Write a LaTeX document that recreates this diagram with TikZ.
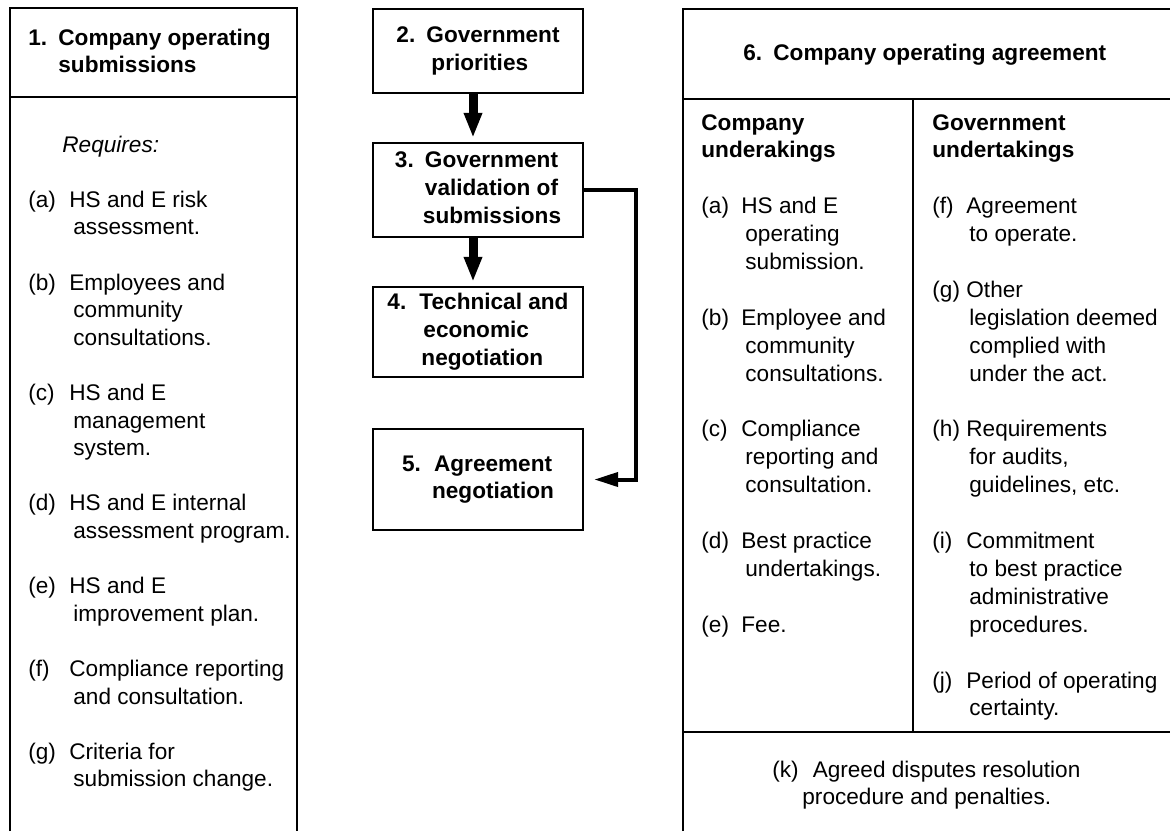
\documentclass[tikz,border=0pt]{standalone}
\usepackage{fontspec}
\setmainfont{Liberation Sans}
\usepackage{tikz}
\usetikzlibrary{arrows.meta, positioning}
\newcommand{\bodyfont}{\fontsize{11.3}{13.8}\selectfont}
\newcommand{\agrfont}{\fontsize{11.3}{13.95}\selectfont}

\begin{document}
\begin{tikzpicture}[
  x=0.5pt, y=-0.5pt,
  frame/.style={line width=1.2pt},
  box/.style={draw, line width=1.2pt, minimum width=105pt, inner sep=0pt,
              font=\bodyfont\bfseries},
  txt/.style={inner sep=0pt, anchor=base west, font=\bodyfont},
  bigarrow/.style={-{Triangle[length=12.5pt, width=8.5pt]}, line width=4.5pt, shorten >=2pt},
  elbow/.style={-{Triangle[length=12pt, width=7pt]}, line width=2pt, shorten >=5pt}
]
\useasboundingbox (0,0) rectangle (1170,831);

% 1. company submissions
\draw[frame] (10,831) -- (10,8) -- (297,8) -- (297,831);
\draw[frame] (10,97) -- (297,97);
\node[txt, font=\bodyfont\bfseries] (subhead) at (28,45) {%
  \begin{tabular}[t]{@{}p{15pt}@{}l@{}}
  1. & Company operating\\
     & submissions
  \end{tabular}};
\node[txt] (subitems) at (28,152) {%
  \begin{tabular}[t]{@{}p{20.5pt}@{}l@{}}
  \multicolumn{2}{@{}l@{}}{\hspace{17pt}\itshape Requires:}\\ &\\
  (a) & HS and E risk\\
      & \hspace{2pt}assessment.\\ &\\
  (b) & Employees and\\
      & \hspace{2pt}community\\
      & \hspace{2pt}consultations.\\ &\\
  (c) & HS and E\\
      & \hspace{2pt}management\\
      & \hspace{2pt}system.\\ &\\
  (d) & HS and E internal\\
      & \hspace{2pt}assessment program.\\ &\\
  (e) & HS and E\\
      & \hspace{2pt}improvement plan.\\ &\\
  (f) & Compliance reporting\\
      & \hspace{2pt}and consultation.\\ &\\
  (g) & Criteria for\\
      & \hspace{2pt}submission change.
  \end{tabular}};

% 2.-5. government steps
\node[box, minimum height=42pt] (gov) at (478,51) {%
  \begin{tabular}{@{}p{15pt}@{}l@{}}
  2. & Government\\
     & \hspace{2.5pt}priorities
  \end{tabular}};
\node[box, minimum height=47pt] (valid) at (478,190) {%
  \begin{tabular}{@{}p{15pt}@{}l@{}}
  3. & Government\\
     & validation of\\
     & \hspace{-1pt}submissions
  \end{tabular}};
\node[box, minimum height=45pt] (tech) at (478,332) {%
  \begin{tabular}{@{}p{16pt}@{}l@{}}
  4. & Technical and\\
     & \hspace{2pt}economic\\
     & \hspace{1pt}negotiation
  \end{tabular}};
\node[box, minimum height=50.5pt] (agree) at (478,479.5) {%
  \begin{tabular}{@{}p{16pt}@{}l@{}}
  5. & Agreement\\
     & \hspace{-1pt}negotiation
  \end{tabular}};
\coordinate (bend) at (636,190);
\draw[bigarrow] ([xshift=-2.5pt]gov.south) -- ([xshift=-2.5pt]valid.north);
\draw[bigarrow] ([xshift=-2.5pt]valid.south) -- ([xshift=-2.5pt]tech.north);
\draw[elbow] (valid.east) -- (bend) |- (agree.east);

% 6. operating agreement
\draw[frame] (683,831) -- (683,9) -- (1170,9);
\draw[frame] (683,99) -- (1170,99);
\draw[frame] (913,99) -- (913,732);
\draw[frame] (683,732) -- (1170,732);
\node[txt, font=\bodyfont\bfseries] (agrhead) at (743,60)
  {\makebox[15pt][l]{6.}Company operating agreement};
\node[txt, font=\agrfont] (compund) at (701,130) {%
  \begin{tabular}[t]{@{}p{20pt}@{}l@{}}
  \multicolumn{2}{@{}l@{}}{\bfseries Company}\\
  \multicolumn{2}{@{}l@{}}{\bfseries underakings}\\ &\\
  (a) & HS and E\\
      & \hspace{2pt}operating\\
      & \hspace{2pt}submission.\\ &\\
  (b) & Employee and\\
      & \hspace{2pt}community\\
      & \hspace{2pt}consultations.\\ &\\
  (c) & Compliance\\
      & \hspace{2pt}reporting and\\
      & \hspace{2pt}consultation.\\ &\\
  (d) & Best practice\\
      & \hspace{2pt}undertakings.\\ &\\
  (e) & Fee.
  \end{tabular}};
\node[txt, font=\agrfont] (govund) at (932,130) {%
  \begin{tabular}[t]{@{}p{17pt}@{}l@{}}
  \multicolumn{2}{@{}l@{}}{\bfseries Government}\\
  \multicolumn{2}{@{}l@{}}{\bfseries undertakings}\\ &\\
  (f) & Agreement\\
      & \hspace{1.5pt}to operate.\\ &\\
  (g) & Other\\
      & \hspace{1.5pt}legislation deemed\\
      & \hspace{1.5pt}complied with\\
      & \hspace{1.5pt}under the act.\\ &\\
  (h) & Requirements\\
      & \hspace{1.5pt}for audits,\\
      & \hspace{1.5pt}guidelines, etc.\\ &\\
  (i) & Commitment\\
      & \hspace{1.5pt}to best practice\\
      & \hspace{1.5pt}administrative\\
      & \hspace{1.5pt}procedures.\\ &\\
  (j) & Period of operating\\
      & \hspace{1.5pt}certainty.
  \end{tabular}};
\node[txt] (disputes) at (772,777) {%
  \begin{tabular}[t]{@{}l@{}}
  (k)\hspace{7pt}Agreed disputes resolution\\
  \hspace{15pt}procedure and penalties.
  \end{tabular}};
\end{tikzpicture}
\end{document}
